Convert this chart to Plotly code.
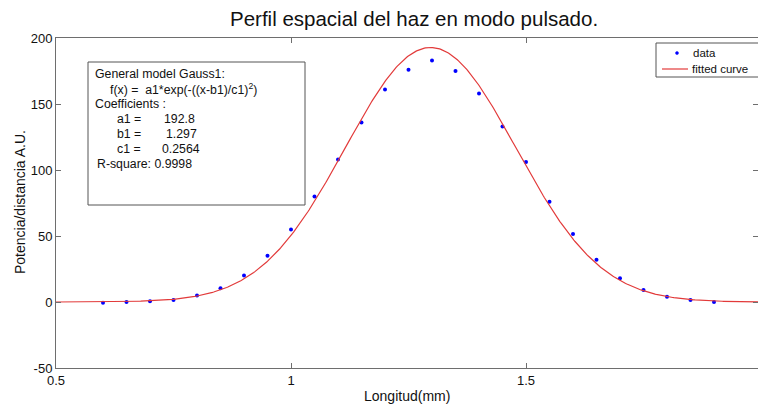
import numpy as np
import plotly.graph_objects as go

# Measured beam profile (position in mm, power/distance in A.U.)
x_data = [0.60, 0.65, 0.70, 0.75, 0.80, 0.85, 0.90, 0.95, 1.00, 1.05, 1.10,
          1.15, 1.20, 1.25, 1.30, 1.35, 1.40, 1.45, 1.50, 1.55, 1.60, 1.65,
          1.70, 1.75, 1.80, 1.85, 1.90]
y_data = [-0.5, 0.0, 0.5, 1.5, 5.0, 10.5, 20.0, 35.0, 55.0, 80.0, 108.0,
          136.0, 161.0, 176.0, 183.0, 175.0, 158.0, 133.0, 106.0, 76.0, 51.5,
          32.0, 18.0, 9.0, 4.0, 1.5, 0.0]

# Gauss1 fit coefficients
a1 = 192.8
b1 = 1.297
c1 = 0.2564
r_square = 0.9998

x_fit = np.linspace(0.5, 2.0, 600)
y_fit = a1 * np.exp(-((x_fit - b1) / c1) ** 2)

x_ticks = [0.5, 1, 1.5]
x_tick_text = ["0.5", "1", "1.5"]
y_ticks = [-50, 0, 50, 100, 150, 200]
y_tick_text = ["-50", "0", "50", "100", "150", "200"]

W, H = 758, 405
L, R, T, B = 56, 0, 38, 37
PW, PH = W - L - R, H - T - B


def px(xp):
    return (xp - L) / PW


def py(yp):
    return (H - B - yp) / PH


FONT = "Liberation Sans, Arial, sans-serif"
RED = "#e23a3a"
BLUE = "#0000ff"

fig = go.Figure()
fig.add_trace(go.Scatter(
    x=x_data, y=y_data, mode="markers", name="data",
    marker=dict(color=BLUE, size=4),
))
fig.add_trace(go.Scatter(
    x=x_fit, y=y_fit, mode="lines", name="fitted curve",
    line=dict(color=RED, width=1.2),
))

axis_common = dict(
    showgrid=False, zeroline=False, showline=True, linecolor="#6e6e6e",
    linewidth=1, mirror="ticks", ticks="inside", ticklen=5,
    tickcolor="#6e6e6e", tickfont=dict(family=FONT, size=13, color="#111"),
)
fig.update_xaxes(range=[0.5, 0.5 + PW / 470.0], tickvals=x_ticks,
                 ticktext=x_tick_text, **axis_common)
fig.update_yaxes(range=[-50, 200], tickvals=y_ticks, ticktext=y_tick_text,
                 **axis_common)

annotations = [
    dict(text="Perfil espacial del haz en modo pulsado.", x=px(414), y=py(18),
         font=dict(size=20.5, color="#111")),
    dict(text="Longitud(mm)", x=px(407), y=py(396),
         font=dict(size=14, color="#111")),
    dict(text="Potencia/distancia A.U.", x=px(20), y=py(202), textangle=-90,
         font=dict(size=14, color="#111")),
]

# Fit summary box
box_lines = [
    ("General model Gauss1:", 93, 74),
    ("f(x) =  a1*exp(-((x-b1)/c1)<sup>2</sup>)", 108, 89),
    ("Coefficients :", 93, 104),
    ("a1 =", 115, 119),
    ("b1 =", 115, 134),
    ("c1 =", 115, 149),
    ("R-square: %.4f" % r_square, 95, 164),
    ("%.1f" % a1, 162, 119),
    ("%.3f" % b1, 164, 134),
    ("%.4f" % c1, 160, 149),
]
for txt, xl, yl in box_lines:
    annotations.append(dict(text=txt, x=px(xl), y=py(yl), xanchor="left",
                            font=dict(size=12.3, color="#111")))

# Legend entries
annotations.append(dict(text="data", x=px(691), y=py(53), xanchor="left",
                        font=dict(size=11.5, color="#111")))
annotations.append(dict(text="fitted curve", x=px(690), y=py(68.5),
                        xanchor="left", font=dict(size=11.5, color="#111")))

for a in annotations:
    a.setdefault("xanchor", "center")
    a.update(xref="paper", yref="paper", yanchor="middle", showarrow=False,
             font=dict(family=FONT, **a["font"]))

shapes = [
    dict(type="rect", xref="paper", yref="paper",
         x0=px(88), x1=px(305), y0=py(205), y1=py(62),
         line=dict(color="#555", width=1), fillcolor="white", layer="below"),
    dict(type="rect", xref="paper", yref="paper",
         x0=px(656), x1=px(760), y0=py(77), y1=py(43),
         line=dict(color="#555", width=1), fillcolor="white", layer="above"),
    dict(type="circle", xref="paper", yref="paper",
         x0=px(675.5), x1=px(678.5), y0=py(54.5), y1=py(51.5),
         line=dict(color=BLUE, width=0.5), fillcolor=BLUE, layer="above"),
    dict(type="line", xref="paper", yref="paper",
         x0=px(662), x1=px(688), y0=py(69), y1=py(69),
         line=dict(color=RED, width=1.2), layer="above"),
]

fig.update_layout(
    width=W, height=H,
    margin=dict(l=L, r=R, t=T, b=B),
    paper_bgcolor="white", plot_bgcolor="white",
    font=dict(family=FONT, size=12, color="#222"),
    annotations=annotations,
    shapes=shapes,
    showlegend=False,
)

fig.write_html("out.html")
